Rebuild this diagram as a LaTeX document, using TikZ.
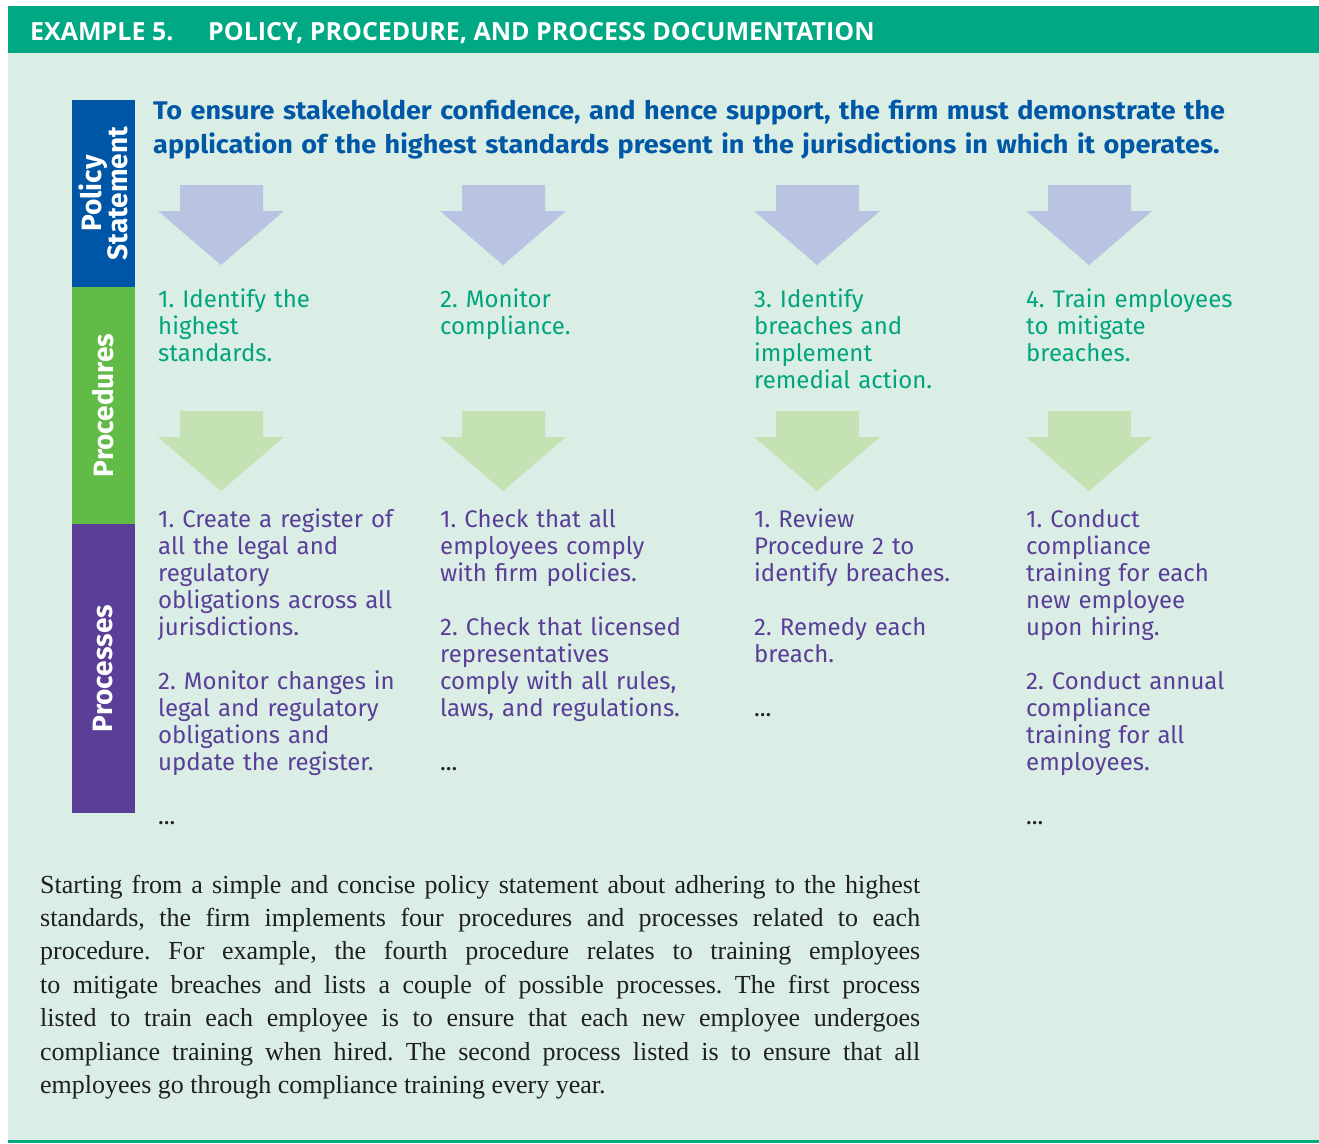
\documentclass[tikz,border=0pt]{standalone}
\usepackage{fontspec}
\setmainfont{Liberation Serif}
\newfontfamily\hdfont{Open Sans}
\newfontfamily\colfont{Fira Sans}
\newfontfamily\polfont[FakeStretch=1.06]{Fira Sans}
\newfontfamily\barfont{Fira Sans}
\definecolor{hdgreen}{HTML}{00A884}
\definecolor{panelbg}{HTML}{DAEEE5}
\definecolor{polblue}{HTML}{0057A5}
\definecolor{barblue}{HTML}{0056A6}
\definecolor{bargreen}{HTML}{62BB46}
\definecolor{barpurple}{HTML}{5A3E98}
\definecolor{arrblue}{HTML}{B8C4E2}
\definecolor{arrgreen}{HTML}{C5E2B4}
\definecolor{proctext}{HTML}{00A47E}
\definecolor{processtext}{HTML}{5A3E98}
\definecolor{dotsgray}{HTML}{222222}
\tikzset{
  sidebar/.style={rotate=90, inner sep=0, minimum height=63pt, text=white, align=center,
    font=\barfont\bfseries\fontsize{28}{25}\selectfont},
  coltext/.style={anchor=base west, inner sep=0, text width=300pt, align=left,
    font=\colfont\frenchspacing\fontsize{24}{27}\selectfont},
  proctxt/.style={coltext, text=proctext},
  processtxt/.style={coltext, text=processtext},
  hdtext/.style={anchor=base west, inner sep=0, text=white, font=\hdfont\bfseries\fontsize{25}{25}\selectfont},
  downarrow/.pic={\fill[#1] (0,0) -- (83,0) -- (83,26) -- (104,26) -- (41,80) -- (-22,26) -- (0,26) -- cycle;}
}
\newcommand{\dotsline}{\textcolor{dotsgray}{...}}
\begin{document}
\begin{tikzpicture}[x=1pt, y=-1pt]
\useasboundingbox (0,0) rectangle (1319,1143);
% background panel and header
\fill[panelbg] (8,53) rectangle (1319,1141);
\fill[hdgreen] (8,6) rectangle (1319,53);
\fill[hdgreen] (8,1140) rectangle (1319,1143);
\node[hdtext] (hdA) at (30,40) {EXAMPLE 5.};
\node[hdtext] (hdB) at (208,40) {POLICY, PROCEDURE, AND PROCESS DOCUMENTATION};
% side bars
\node[sidebar, fill=barblue, minimum width=187pt] (barPol) at (103.5,193.5) {Policy\\[-1pt]Statement};
\node[sidebar, fill=bargreen, minimum width=237pt] (barProc) at (103.5,405.5) {Procedures};
\node[sidebar, fill=barpurple, minimum width=289pt] (barProcess) at (103.5,668.5) {Processes};
% policy statement
\node[anchor=base west, inner sep=0, text width=1160pt, align=left, text=polblue,
  font=\polfont\bfseries\frenchspacing\fontsize{25.5}{34.5}\selectfont] (pol) at (153,119)
  {To ensure stakeholder confidence, and hence support, the firm must demonstrate the\\
   application of the highest standards present in the jurisdictions in which it operates.};
% arrows
\foreach \xx/\nm in {180/a,462/b,776/c,1048/d}{
  \pic (blue\nm) at (\xx,185) {downarrow=arrblue};
  \pic (green\nm) at (\xx,411) {downarrow=arrgreen};
}
% procedures
\node[proctxt] (proc1) at (158,307) {1. Identify the\\highest\\standards.};
\node[proctxt] (proc2) at (440,307) {2. Monitor\\compliance.};
\node[proctxt] (proc3) at (754,307) {3. Identify\\breaches and\\implement\\remedial action.};
\node[proctxt] (proc4) at (1026,307) {4. Train employees\\to mitigate\\breaches.};
% processes
\node[processtxt] (pr1) at (158,527) {1. Create a register of\\all the legal and\\regulatory\\obligations across all\\jurisdictions.\\[27pt]2. Monitor changes in\\legal and regulatory\\obligations and\\update the register.\\[27pt]\dotsline};
\node[processtxt] (pr2) at (440,527) {1. Check that all\\employees comply\\with firm policies.\\[27pt]2. Check that licensed\\representatives\\comply with all rules,\\laws, and regulations.\\[27pt]\dotsline};
\node[processtxt] (pr3) at (754,527) {1. Review\\Procedure 2 to\\identify breaches.\\[27pt]2. Remedy each\\breach.\\[27pt]\dotsline};
\node[processtxt] (pr4) at (1026,527) {1. Conduct\\compliance\\training for each\\new employee\\upon hiring.\\[27pt]2. Conduct annual\\compliance\\training for all\\employees.\\[27pt]\dotsline};
% explanatory paragraph
\node[anchor=base west, inner sep=0, text width=880pt, align=justify, text=black!88,
  font=\frenchspacing\fontsize{26}{33.4}\selectfont] (para) at (40,893)
  {Starting from a simple and concise policy statement about adhering to the highest\linebreak
   standards, the firm implements four procedures and processes related to each\linebreak
   procedure. For example, the fourth procedure relates to training employees\linebreak
   to mitigate breaches and lists a couple of possible processes. The first process\linebreak
   listed to train each employee is to ensure that each new employee undergoes\linebreak
   compliance training when hired. The second process listed is to ensure that all\linebreak
   employees go through compliance training every year.};
\end{tikzpicture}
\end{document}
